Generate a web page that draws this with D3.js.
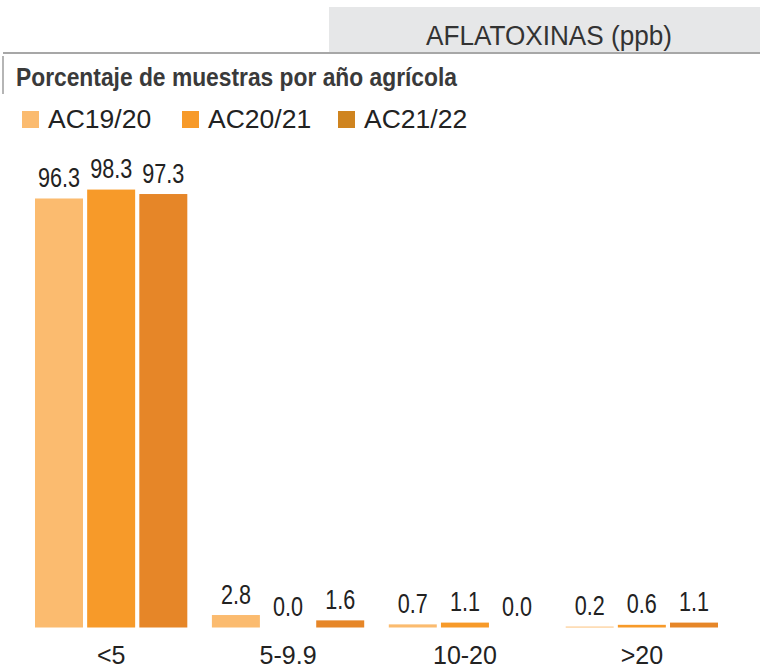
<!DOCTYPE html>
<html>
<head>
<meta charset="utf-8">
<script src="https://cdn.jsdelivr.net/npm/d3@7"></script>
<style>
  html, body { margin: 0; padding: 0; background: #fff; }
  svg { display: block; }
</style>
</head>
<body>
<svg id="chart" width="760" height="669"></svg>
<script>
// Rangos de aflatoxinas (ppb)
const categories = ["<5", "5-9.9", "10-20", ">20"];
// Años agrícolas
const seasons = ["AC19/20", "AC20/21", "AC21/22"];
// Porcentaje de muestras por rango, una lista por año agrícola
const ac1920 = [96.3, 2.8, 0.7, 0.2];
const ac2021 = [98.3, 0.0, 1.1, 0.6];
const ac2122 = [97.3, 1.6, 0.0, 1.1];
const seriesValues = [ac1920, ac2021, ac2122];

const barColors = ["#FBBB6F", "#F79A29", "#E68628"];
const legendColors = ["#FBBB6F", "#F79A29", "#CF841F"];

const svg = d3.select("#chart");
const W = 760, H = 669;

const regular = "'Liberation Sans', Arial, sans-serif";

// Encabezado: caja gris con el título
svg.append("rect")
  .attr("x", 329).attr("y", 7).attr("width", W - 329).attr("height", 46)
  .attr("fill", "#E6E7E8");
svg.append("line")
  .attr("x1", 3).attr("x2", W).attr("y1", 53).attr("y2", 53)
  .attr("stroke", "#A7A7A7").attr("stroke-width", 2);
svg.append("text")
  .attr("x", 549).attr("y", 45)
  .attr("text-anchor", "middle")
  .attr("font-family", regular).attr("font-size", 27)
  .attr("fill", "#333")
  .attr("textLength", 246).attr("lengthAdjust", "spacingAndGlyphs")
  .text("AFLATOXINAS (ppb)");

// Subtítulo con barra vertical
svg.append("line")
  .attr("x1", 3).attr("x2", 3).attr("y1", 56).attr("y2", 94)
  .attr("stroke", "#B5B5B5").attr("stroke-width", 2);
svg.append("text")
  .attr("x", 16).attr("y", 86)
  .attr("font-family", regular).attr("font-weight", "bold").attr("font-size", 25.5)
  .attr("fill", "#3A3A3A")
  .attr("textLength", 441).attr("lengthAdjust", "spacingAndGlyphs")
  .text("Porcentaje de muestras por año agrícola");

// Leyenda
const legendX = [22, 182, 338];
const legend = svg.append("g");
seasons.forEach((s, i) => {
  legend.append("rect")
    .attr("x", legendX[i]).attr("y", 111).attr("width", 17).attr("height", 17)
    .attr("fill", legendColors[i]);
  legend.append("text")
    .attr("x", legendX[i] + 26).attr("y", 128)
    .attr("font-family", regular).attr("font-size", 26.5)
    .attr("fill", "#222")
    .text(s);
});

// Escalas
const x0 = d3.scaleBand().domain(categories).range([35, 718]).paddingInner(0.139).paddingOuter(0);
const x1 = d3.scaleBand().domain(seasons).range([0, x0.bandwidth()]).paddingInner(0.08);
const y = d3.scaleLinear().domain([0, 100]).range([627.5, 182]);

const rows = categories.map((c, ci) => ({
  cat: c,
  vals: seasons.map((s, si) => ({ season: s, si, value: seriesValues[si][ci] }))
}));

const groups = svg.append("g").selectAll("g")
  .data(rows).join("g")
  .attr("transform", d => `translate(${x0(d.cat)},0)`);

groups.selectAll("rect")
  .data(d => d.vals).join("rect")
  .attr("x", d => x1(d.season))
  .attr("y", d => y(d.value))
  .attr("width", x1.bandwidth())
  .attr("height", d => y(0) - y(d.value))
  .attr("fill", d => barColors[d.si]);

// Etiquetas de valor, en letra condensada
groups.selectAll("text")
  .data(d => d.vals).join("text")
  .attr("transform", d =>
    `translate(${x1(d.season) + x1.bandwidth() / 2},${y(d.value) - 11.5}) scale(0.8,1)`)
  .attr("text-anchor", "middle")
  .attr("font-family", regular).attr("font-size", 27)
  .attr("fill", "#222")
  .text(d => d3.format(".1f")(d.value));

// Eje de categorías (sin línea ni marcas)
const xAxis = svg.append("g")
  .attr("transform", `translate(0,${y(0)})`)
  .call(d3.axisBottom(x0).tickSize(0).tickPadding(36));
xAxis.select(".domain").remove();
xAxis.selectAll("text")
  .attr("font-family", regular).attr("font-size", 25)
  .attr("fill", "#222")
  .attr("dy", "0");
</script>
</body>
</html>
